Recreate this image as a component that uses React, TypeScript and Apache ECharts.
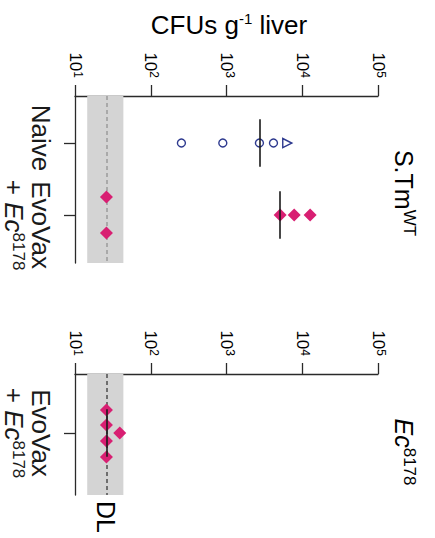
import React, { useEffect, useRef } from 'react';
import * as echarts from 'echarts';

const FONT = '"Liberation Sans", Arial, Helvetica, sans-serif';

// ---------- data ----------
const xTickValues = [10, 100, 1000, 10000, 100000];
const xTickExponents = ['1', '2', '3', '4', '5'];
const detectionLimit = 26;
const detectionBand = [14.5, 43.5];

const stmGroupNames = ['Naive', 'EvoVax + Ec8178'];
const stmNaiveCircles = [254, 894, 2722, 4170];
const stmNaiveTriangles = [6340];
const stmEvoVax = [26, 26, 5100, 7820, 12700];

const ecGroupNames = ['EvoVax + Ec8178'];
const ecEvoVax = [26, 26, 26, 26, 39];

// ---------- layout (not data) ----------
const stmEvoVaxSwarm = [-18, 18, 0, 0, 0];
const ecEvoVaxSwarm = [-23, -8, 8, 24, 0];
const stmLabelShift = [-0.07, 0.14];
const ecLabelShift = [0];
const yRanges = [
  [-0.653, 1.667],
  [-0.82, 0.861],
];

const PINK = '#d81f72';
const NAVY = '#2e3a8f';
const AXIS = '#2a2a2a';
const INK = '#1a1a1a';

function median(arr: number[]) {
  const s = [...arr].sort((a, b) => a - b);
  const n = s.length;
  return n % 2 ? s[(n - 1) / 2] : (s[n / 2 - 1] + s[n / 2]) / 2;
}

function groupLabel(name: string) {
  const m = name.match(/^(.*?) \+ Ec(\d+)$/);
  if (m) return `{b|${m[1]}}\n{b|+ }{i|Ec}{s|${m[2]}}`;
  return `{b|${name}}`;
}

const baseLabel = { fontSize: 26, lineHeight: 27, fontFamily: FONT, color: INK };
const yRich = {
  b: baseLabel,
  i: { ...baseLabel, fontStyle: 'italic' },
  s: { fontSize: 17, lineHeight: 16, verticalAlign: 'top', fontFamily: FONT, color: INK },
};

const xRich = {
  b: { fontSize: 17, lineHeight: 18, fontFamily: FONT, color: INK },
  s: { fontSize: 12, lineHeight: 11, verticalAlign: 'top', fontFamily: FONT, color: INK },
};

function xAxis(gridIndex: number) {
  return {
    type: 'log',
    logBase: 10,
    gridIndex,
    position: 'top',
    min: xTickValues[0],
    max: xTickValues[xTickValues.length - 1],
    axisLine: { show: true, onZero: false, lineStyle: { color: AXIS, width: 1.3 } },
    axisTick: { show: true, length: 11, lineStyle: { color: AXIS, width: 1.3 } },
    splitLine: { show: false },
    // tick labels are drawn rotated at the axis' own pixel positions (see below)
    axisLabel: { show: false },
  };
}

function yAxis(gridIndex: number, names: string[], shift: number[]) {
  const idx = names.map((_, i) => i);
  return {
    type: 'value',
    gridIndex,
    inverse: true,
    min: yRanges[gridIndex][0],
    max: yRanges[gridIndex][1],
    axisLine: { show: true, onZero: false, lineStyle: { color: AXIS, width: 1.3 } },
    axisTick: { show: true, length: 11, customValues: idx, lineStyle: { color: AXIS, width: 1.3 } },
    splitLine: { show: false },
    axisLabel: {
      customValues: idx.map((i) => i + shift[i]),
      rotate: -90,
      margin: 21,
      showMinLabel: true,
      showMaxLabel: true,
      formatter: (v: number) => groupLabel(names[Math.round(v)]),
      rich: yRich,
    },
  };
}

function bandSeries(ai: number, dashColor: string, dashWidth: number) {
  return {
    type: 'scatter',
    xAxisIndex: ai,
    yAxisIndex: ai,
    data: [],
    silent: true,
    markArea: {
      silent: true,
      itemStyle: { color: '#d4d4d4' },
      data: [[{ xAxis: detectionBand[0] }, { xAxis: detectionBand[1] }]],
    },
    markLine: {
      z: 2,
      silent: true,
      symbol: ['none', 'none'],
      label: { show: false },
      lineStyle: { color: dashColor, type: [4, 3], width: dashWidth },
      data: [{ xAxis: detectionLimit }],
    },
  };
}

function medianLine(values: number[], group: number) {
  const m = median(values);
  return {
    z: 12,
    silent: true,
    symbol: ['none', 'none'],
    label: { show: false },
    lineStyle: { color: INK, type: 'solid', width: 1.6 },
    data: [[{ coord: [m, group - 0.33] }, { coord: [m, group + 0.33] }]],
  };
}

const option: any = {
  animation: false,
  backgroundColor: '#ffffff',
  grid: [
    { left: 75, top: 96, width: 303, height: 167 },
    { left: 75, top: 374, width: 303, height: 121 },
  ],
  xAxis: [xAxis(0), xAxis(1)],
  yAxis: [yAxis(0, stmGroupNames, stmLabelShift), yAxis(1, ecGroupNames, ecLabelShift)],
  series: [
    bandSeries(0, '#9a9a9a', 1.5),
    {
      type: 'scatter',
      xAxisIndex: 0,
      yAxisIndex: 0,
      z: 3,
      symbol: 'circle',
      symbolSize: 8,
      itemStyle: { color: 'rgba(0,0,0,0)', borderColor: NAVY, borderWidth: 1.4, opacity: 1 },
      data: stmNaiveCircles.map((v) => [v, 0]),
      markLine: medianLine([...stmNaiveCircles, ...stmNaiveTriangles], 0),
    },
    {
      type: 'scatter',
      xAxisIndex: 0,
      yAxisIndex: 0,
      z: 3,
      symbol: 'triangle',
      symbolRotate: -90,
      symbolSize: 9,
      itemStyle: { color: 'rgba(0,0,0,0)', borderColor: NAVY, borderWidth: 1.4, opacity: 1 },
      data: stmNaiveTriangles.map((v) => [v, 0]),
    },
    {
      type: 'scatter',
      xAxisIndex: 0,
      yAxisIndex: 0,
      z: 10,
      symbol: 'diamond',
      symbolSize: 13,
      itemStyle: { color: PINK, opacity: 1 },
      data: stmEvoVax.map((v, i) => ({ value: [v, 1], symbolOffset: [0, stmEvoVaxSwarm[i]] })),
      markLine: medianLine(stmEvoVax, 1),
    },
    bandSeries(1, '#6e6e6e', 2),
    {
      type: 'scatter',
      xAxisIndex: 1,
      yAxisIndex: 1,
      z: 10,
      symbol: 'diamond',
      symbolSize: 13,
      itemStyle: { color: PINK, opacity: 1 },
      data: ecEvoVax.map((v, i) => ({ value: [v, 0], symbolOffset: [0, ecEvoVaxSwarm[i]] })),
      markLine: medianLine(ecEvoVax, 0),
    },
  ],
};

export default function App() {
  const ref = useRef<HTMLDivElement>(null);
  useEffect(() => {
    if (!ref.current) return;
    const chart = echarts.init(ref.current, null, { renderer: 'svg' });
    chart.setOption(option);

    const text = (x: number, y: number, t: string, rich: any, rotation = 0, align = 'center') => ({
      type: 'text',
      x,
      y,
      rotation,
      silent: true,
      style: { text: t, rich, align, verticalAlign: 'middle', fontFamily: FONT },
    });

    // rotated tick labels for both panels, placed through each log axis' pixel mapping
    const tickLabels: any[] = [];
    [0, 1].forEach((g) => {
      xTickValues.forEach((v, k) => {
        const p = chart.convertToPixel({ gridIndex: g }, [v, yRanges[g][0]]) as number[];
        tickLabels.push(
          text(p[0], p[1] - 18, `{b|10}{s|${xTickExponents[k]}}`, xRich, -Math.PI / 2, 'right')
        );
      });
    });

    const dlX = chart.convertToPixel({ xAxisIndex: 1 }, detectionLimit) as number;
    const titleRich = {
      b: { fontSize: 26, lineHeight: 28, fontFamily: FONT, color: INK },
      i: { fontSize: 25, lineHeight: 28, fontFamily: FONT, fontStyle: 'italic', color: INK },
      s: { fontSize: 15, lineHeight: 16, verticalAlign: 'top', fontFamily: FONT, color: INK },
      ps: { fontSize: 17, lineHeight: 16, verticalAlign: 'top', fontFamily: FONT, color: INK },
      p: { fontSize: 25, lineHeight: 28, fontFamily: FONT, color: INK },
    };
    chart.setOption({
      graphic: [
        text(229, 25, '{b|CFUs g}{s|-1}{b| liver}', titleRich),
        text(404, 193, '{p|S.Tm}{ps|WT}', titleRich, -Math.PI / 2),
        text(404, 452, '{i|Ec}{ps|8178}', titleRich, -Math.PI / 2),
        text(dlX, 517, '{p|DL}', titleRich, -Math.PI / 2),
        ...tickLabels,
      ],
    });
    return () => chart.dispose();
  }, []);
  return (
    <div
      ref={ref}
      style={{ position: 'fixed', left: 0, top: 0, width: 435, height: 538, background: '#fff' }}
    />
  );
}
